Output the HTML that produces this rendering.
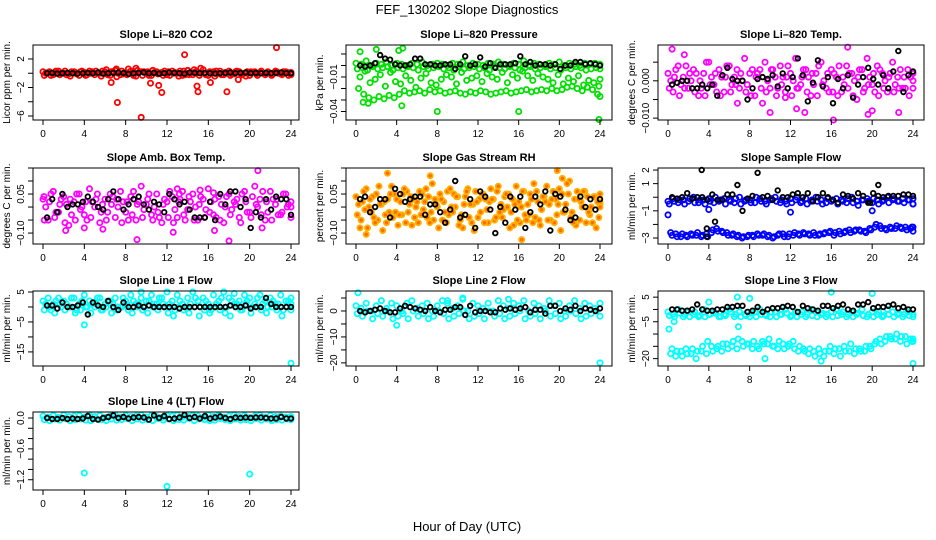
<!DOCTYPE html>
<html><head><meta charset="utf-8">
<style>
html,body{margin:0;padding:0;background:#fff;}
svg{display:block;font-family:"Liberation Sans",Arial,sans-serif;}
</style></head>
<body>
<svg id="chart" width="936" height="540" viewBox="0 0 936 540" xmlns="http://www.w3.org/2000/svg">
<rect x="0" y="0" width="936" height="540" fill="#fff"/>
<text x="467" y="14" font-size="13" text-anchor="middle">FEF_130202  Slope Diagnostics</text>
<text x="467" y="531" font-size="13" text-anchor="middle">Hour of Day (UTC)</text>
</svg>
<script>
const hours=[0,0.5,1,1.5,2,2.5,3,3.5,4,4.5,5,5.5,6,6.5,7,7.5,8,8.5,9,9.5,10,10.5,11,11.5,12,12.5,13,13.5,14,14.5,15,15.5,16,16.5,17,17.5,18,18.5,19,19.5,20,20.5,21,21.5,22,22.5,23,23.5,24];
const xTicks=[0,4,8,12,16,20,24];

const co2Black=[0,0.05,-0.05,0,0.05,0,-0.05,0,0.05,0,0.1,-0.05,0,0.05,0.1,0.05,-0.1,0,0.05,0.1,0,0.05,-0.05,0,0.1,0.05,0,-0.05,0.1,0.05,0,0.05,0,-0.05,0,0.05,0.1,0,0.05,0.1,0,0.05,0,0.05,0,0.05,0.1,0,0];
const co2A=[0.2,0.1,-0.2,0.3,0,-0.1,0.2,-0.3,0.1,0.3,-0.2,0,0.2,-0.3,0.4,-0.2,0.1,0.3,-0.4,0.2,0,-0.3,0.2,0.1,-0.2,0.3,0,-0.3,0.4,-0.2,0.1,0.5,-0.3,0.2,0,-0.2,0.3,-0.1,0.2,0,-0.3,0.2,0.1,-0.2,0,0.3,-0.1,0.2,0];
const co2B=[-0.3,0.2,0.1,-0.2,0.3,-0.4,0.1,0.2,-0.3,0,0.3,-0.4,0.5,0.2,-0.5,0.3,-0.2,0,0.4,-0.3,0.2,0.4,-0.1,-0.3,0.2,0,-0.4,0.3,-0.2,0.5,-0.3,0,0.2,-0.4,0.3,0.1,-0.3,0.2,0,-0.4,0.2,-0.1,0.3,0,-0.3,0.2,-0.2,0.1,-0.2];
const co2C=[0,-0.3,0.3,0,-0.2,0.2,-0.1,0.3,-0.2,0.2,0,0.3,-0.2,0.2,0,-0.1,0.6,-0.3,0.1,0.2,-0.3,0.1,0,0.3,-0.3,0.1,0.3,-0.2,0,0.2,0.7,-0.2,0,0.3,-0.2,0,-0.1,0.3,-0.2,0.2,0.1,-0.3,0,0.2,-0.1,0,0.2,-0.3,0.1];
const co2OutX=[7.2,9.5,13.7,22.6,11.5,14.9,15,17.8,11.2,7.1,9,6.6,16.2,18.9,10.4];
const co2OutY=[-4.1,-6.2,2.6,3.6,-2.7,-1.8,-2.6,-2.6,-1.7,0.6,0.7,-1.3,-1.3,-0.9,-1.4];

const presBlack=[0,-0.001,0,0.002,0.009,0.006,0.005,0.001,0,0,0.001,0.006,0.006,0.001,0.001,0,0,0.001,0.001,-0.003,0.001,0.008,0,0.001,0.007,-0.001,0.002,-0.002,0.001,0.001,0.001,0.002,0.008,0.001,0.003,0,0.001,0.001,0,0.001,-0.003,0,0,0.003,0.003,0.001,0.002,0.001,0];
const presA=[0.002,0.001,0.004,0,0.002,0.001,0.003,0,0.002,0.001,0,0.002,0.001,0.003,0,0.001,0.002,0.001,0,0.002,0.001,0.003,0,0.002,0.001,0,0.002,0.001,0.003,0.001,0,0.002,0.001,0.004,0,0.002,0.001,0,0.002,0.001,0.003,0,0.002,0.001,0,0.002,0.001,0.002,0.001];
const presB=[-0.003,-0.002,-0.004,-0.001,-0.003,-0.002,-0.001,-0.004,-0.002,-0.003,-0.001,-0.002,-0.004,-0.001,-0.003,-0.002,-0.001,-0.003,-0.002,-0.004,-0.001,-0.003,-0.002,-0.001,-0.003,-0.002,-0.004,-0.001,-0.002,-0.003,-0.001,-0.002,-0.004,-0.002,-0.001,-0.003,-0.002,-0.001,-0.003,-0.002,-0.004,-0.002,-0.003,-0.001,-0.002,-0.004,-0.003,-0.002,-0.003];
const presC=[-0.020,-0.025,-0.028,-0.030,-0.027,-0.029,-0.026,-0.028,-0.025,-0.022,-0.024,-0.023,-0.022,-0.024,-0.021,-0.023,-0.022,-0.024,-0.023,-0.022,-0.024,-0.025,-0.023,-0.024,-0.022,-0.023,-0.025,-0.024,-0.023,-0.022,-0.024,-0.023,-0.022,-0.021,-0.023,-0.022,-0.021,-0.022,-0.020,-0.022,-0.021,-0.019,-0.018,-0.020,-0.022,-0.019,-0.021,-0.025,-0.027];
const presD=[-0.010,-0.005,-0.015,-0.012,-0.008,-0.018,-0.006,-0.014,-0.016,-0.009,-0.013,-0.019,-0.011,-0.007,-0.015,-0.017,-0.012,-0.008,-0.010,-0.016,-0.006,-0.013,-0.011,-0.009,-0.014,-0.007,-0.010,-0.012,-0.006,-0.015,-0.008,-0.011,-0.005,-0.009,-0.013,-0.007,-0.010,-0.012,-0.015,-0.008,-0.016,-0.011,-0.014,-0.009,-0.017,-0.013,-0.015,-0.018,-0.012];
const presOutX=[0.4,2,4.2,4.6,8,16,23.9,4.5,1.2,0.7];
const presOutY=[0.012,0.014,0.013,0.015,-0.040,-0.040,-0.047,-0.035,-0.033,-0.032];

const tempBlack=[-0.001,-0.0005,0,0,-0.002,-0.002,-0.001,-0.002,-0.001,-0.004,0.0015,0.0035,0.0005,0,0,-0.005,-0.002,0.0005,0.001,0.0005,0.0015,-0.0015,0.002,-0.002,0.001,0.006,0.0015,-0.0055,-0.0005,0.0055,-0.0015,0.001,-0.006,0.0005,-0.002,0.0015,-0.0045,-0.001,0.001,0.0035,0.0005,-0.001,0.0015,-0.002,0.0025,0.008,-0.003,0.0015,0.0025];
const tempA=[0.002,-0.003,0.004,0.001,-0.002,0.003,-0.004,0.002,0.005,-0.001,0.003,-0.003,0.004,0.001,-0.002,0.006,0.002,-0.004,0.003,0.005,-0.002,0.001,0.004,-0.003,0.002,0.006,-0.001,0.003,-0.004,0.002,0.005,-0.002,0.003,0.001,-0.003,0.004,0.002,-0.005,0.003,0.006,-0.001,0.004,0.002,-0.003,0.005,0.001,-0.002,0.003,0];
const tempB=[-0.002,0.001,-0.004,-0.002,0.002,-0.003,0,-0.004,-0.001,0.002,-0.004,0.001,-0.003,-0.001,0.002,-0.003,-0.004,0.001,-0.002,-0.003,0.003,-0.004,-0.001,0.001,-0.004,-0.002,0.001,-0.003,0.002,-0.004,-0.001,0.002,-0.003,-0.004,0.001,-0.002,-0.004,0.001,-0.003,-0.001,0.002,-0.004,-0.002,0.001,-0.003,-0.002,0.001,-0.004,-0.002];
const tempC=[0,0.003,-0.001,0.004,0,0.002,-0.002,0.005,0.001,-0.003,0.001,0.004,-0.001,0.003,0,-0.001,0.003,0.002,-0.006,0,0.003,-0.002,0.001,0.004,0,-0.002,0.003,0.001,-0.001,0.004,0,-0.003,0.002,0.004,-0.001,0.002,0,0.003,-0.002,0.001,-0.003,0.003,0,0.002,-0.001,0.003,-0.002,0.001,0.002];
const tempOutX=[0.4,1.6,6.8,10,12.6,13.4,16.2,17.6,19.6,20,22.6,11.5];
const tempOutY=[0.0085,0.007,-0.006,-0.0085,-0.0075,-0.0085,-0.0105,0.009,-0.009,-0.008,-0.0085,-0.0045];

const ambBlack=[-0.04,0.03,-0.02,0.05,0,0.01,0.01,0.02,0.04,0.02,0,-0.01,0.03,0.06,0.03,-0.01,0.01,0.03,0.04,0.01,-0.01,0.02,0.01,-0.02,0.05,0.03,0.01,0.02,-0.01,-0.04,-0.04,-0.04,0.02,-0.05,0.05,0.01,0.06,0.06,0,0.03,-0.08,-0.02,-0.04,0.03,-0.01,0.04,0.03,0.03,-0.03];
const ambA=[0.03,-0.05,0.06,-0.02,0.04,-0.07,0.02,0.05,-0.03,0.07,0,-0.06,0.03,0.05,-0.04,0.06,-0.02,0.04,-0.05,0.08,0.01,-0.03,0.05,-0.06,0.02,0.04,-0.04,0.06,-0.01,0.05,-0.05,0.03,0.07,-0.03,0.04,-0.06,0.05,0.02,-0.04,0.06,-0.02,0.08,0.03,-0.05,0.06,0.01,-0.03,0.05,0.02];
const ambB=[-0.05,0.02,-0.04,0.01,-0.06,0.03,-0.05,-0.01,0.02,-0.04,0.03,-0.02,-0.05,0.01,0.03,-0.06,0.02,-0.03,0.01,-0.04,0.03,-0.05,-0.02,0.01,-0.04,-0.06,0.02,-0.03,0.04,-0.05,0.01,-0.04,-0.02,0.03,-0.05,0,-0.03,0.01,-0.06,0.02,-0.04,0.01,-0.03,0.02,-0.05,0.03,-0.02,0,-0.04];
const ambC=[0,0.05,-0.02,0.03,0.01,-0.03,0.05,0,-0.05,0.02,0.05,0.01,-0.02,0.04,0,0.02,-0.05,0.06,0.02,-0.01,0.05,0,-0.04,0.03,0.06,-0.01,0.03,-0.05,0.02,0,0.04,-0.01,0.02,-0.04,0.01,0.04,-0.01,0.03,0.05,-0.02,0.04,0,0.06,-0.02,0.03,-0.03,0.05,0.01,0];
const ambOutX=[2.2,4,5.8,9.1,13,12.6,15.2,16.6,18,20.8,21.2,13.2,16.5,0.1];
const ambOutY=[-0.09,-0.08,-0.085,-0.125,0.07,-0.097,0.065,-0.09,-0.13,0.14,-0.08,0.05,0.055,0.04];

const rhBlack=[0.03,0.04,-0.02,0,0.03,0.03,-0.04,0.07,0.05,0.02,0.03,0.04,0.04,-0.03,0.01,0.01,-0.02,-0.06,-0.01,0.10,-0.04,-0.03,0.03,-0.08,0.06,0.04,-0.01,-0.10,0,-0.06,0.04,-0.01,0.04,-0.08,-0.02,0.04,0.01,0.06,-0.09,0.05,0.04,-0.01,-0.05,-0.04,0.04,0,0.03,-0.01,0.03];
const rhA=[0.04,-0.05,0.07,-0.02,0.05,0.01,-0.06,0.08,0.03,-0.03,0.06,-0.07,0.02,0.05,-0.04,0.09,0,-0.05,0.06,-0.02,0.04,-0.08,0.07,0.01,-0.04,0.05,-0.06,0.03,0.08,-0.01,0.05,-0.07,0.02,0.06,-0.03,0.09,-0.05,0.04,0.01,-0.06,0.07,-0.02,0.10,0.03,-0.05,0.06,-0.03,0.04,0.02];
const rhB=[-0.03,0.02,-0.08,0.04,-0.05,-0.09,0.03,-0.04,-0.07,0.05,-0.02,0.03,-0.06,-0.01,0.04,-0.05,-0.08,0.02,-0.03,0.05,-0.07,0.01,-0.04,-0.09,0.03,-0.06,0.02,-0.05,-0.02,0.04,-0.08,0.01,-0.06,-0.03,0.05,-0.04,-0.07,0.02,-0.05,0.03,-0.09,0.01,-0.04,-0.07,0.02,-0.06,0,-0.08,0.01];
const rhC=[0.01,0.06,0,-0.04,0.08,0.02,-0.02,0.05,-0.03,0.07,0.01,-0.04,0.06,0.02,-0.06,0.03,0.05,-0.02,0.07,0,-0.05,0.04,0.01,0.06,-0.02,0.03,0.07,-0.04,0.01,0.05,-0.02,0.08,0,-0.05,0.03,0.06,-0.01,0.08,0.03,-0.03,0.05,0.09,-0.02,0.06,0,0.04,-0.06,0.02,0.05];
const rhD=[-0.08,-0.01,0.03,-0.06,0.01,-0.03,0.05,-0.02,0.02,-0.06,0.04,0,-0.03,0.07,-0.02,0.01,0.03,-0.06,0,0.04,-0.03,0.06,-0.06,0.02,0.05,-0.01,0.03,0.06,-0.04,0,0.03,-0.05,0.06,0.01,-0.06,0.02,0.04,-0.05,0.06,0.01,-0.02,0.05,-0.06,0.03,0.06,-0.02,0.04,-0.04,0];
const rhOutX=[1,3.1,7.3,16.3,19.8,20.3];
const rhOutY=[-0.105,0.13,0.12,-0.125,0.14,0.11];

const sfBlack=[0,-0.1,0,0.3,-0.1,0,0,-0.2,0.2,-0.2,-0.2,0.2,0.2,0.9,-1.0,-0.1,0.1,1.8,0,0.1,-0.2,0.5,0,0,0.2,0.3,0,0.3,-0.3,0,0.3,0,-0.2,-0.4,0.2,0.1,-0.1,0.3,0.1,-0.4,0.3,0.1,0,0.1,0.1,0.1,0.2,0.2,0.1];
const sfBlackOutX=[3.3,3.8,3.8,4.6,19.8,20.6];
const sfBlackOutY=[2.0,-2.9,-2.3,-1.8,-0.4,0.9];
const sfA=[-0.3,-0.1,-0.4,-0.2,-0.3,0,-0.4,-0.2,-0.1,-0.4,-0.3,-0.1,-0.2,-0.4,0,-0.3,-0.2,-0.4,-0.1,-0.3,-0.2,0,-0.4,-0.3,-0.1,-0.2,-0.4,-0.1,-0.3,0,-0.2,-0.4,-0.3,-0.1,-0.2,-0.4,0,-0.3,-0.2,-0.1,-0.4,-0.2,-0.3,0,-0.2,-0.3,-0.1,-0.2,-0.1];
const sfB=[-0.5,-0.3,-0.2,-0.5,-0.1,-0.4,-0.2,-0.5,-0.3,0,-0.2,-0.5,-0.3,-0.1,-0.5,-0.2,-0.4,0,-0.3,-0.5,-0.1,-0.3,-0.2,-0.5,-0.4,0,-0.3,-0.5,-0.2,-0.3,-0.5,-0.1,-0.2,-0.5,-0.3,-0.1,-0.4,-0.6,-0.2,-0.3,-0.1,-0.5,-0.2,-0.4,-0.1,-0.3,-0.4,-0.2,-0.5];
const sfC=[-2.6,-2.7,-2.9,-2.8,-2.7,-2.8,-2.9,-2.7,-2.6,-2.3,-2.5,-2.6,-2.8,-2.9,-3.0,-2.9,-2.8,-2.7,-2.8,-2.9,-3.0,-2.8,-2.7,-2.9,-2.8,-2.7,-2.6,-2.7,-2.6,-2.8,-2.7,-2.6,-2.8,-2.5,-2.6,-2.4,-2.5,-2.4,-2.5,-2.3,-2.2,-2.1,-2.3,-2.2,-2.3,-2.2,-2.2,-2.3,-2.5];
const sfD=[-2.8,-2.9,-2.7,-2.9,-2.8,-2.6,-2.8,-2.9,-2.4,-2.5,-2.6,-2.8,-2.7,-2.8,-2.9,-2.8,-2.9,-2.8,-2.7,-2.8,-2.9,-2.7,-2.9,-2.7,-2.6,-2.8,-2.7,-2.8,-2.8,-2.7,-2.6,-2.5,-2.6,-2.7,-2.5,-2.6,-2.4,-2.5,-2.6,-2.4,-2.0,-2.3,-2.4,-2.3,-2.1,-2.3,-2.4,-2.2,-2.2];
const sfOutX=[0,4,12,20,24];
const sfOutY=[-1.3,-0.9,-1.1,-1.0,-0.5];

const l1Black=[0.5,0.5,-0.5,1.5,0,0,0.5,1.5,-2.5,1.5,0.5,0,2.0,0,-1,1.5,0,0,0.5,0,0.5,0,0,0,0,0,-0.5,0,0,0,0,0,0,0,0,0,0.5,0,0,0.5,-0.5,0,0,3,1,0,0,0,0];
const l1A=[2,3,1,3,2,0,3,1,4,2,0,3,1,2,3,0,2,4,1,3,2,4,1,3,5,2,4,1,3,5,2,3,1,4,2,5,3,1,2,4,3,1,4,2,3,1,4,2,3];
const l1B=[-1,0,-2,1,-1,0,-2,-1,0,-2,1,-1,0,-2,-1,0,1,-2,0,-1,-2,0,-1,1,-2,-3,0,-1,-2,0,-3,-1,-2,0,-1,-2,-3,0,-1,1,-2,0,-1,-2,0,-1,-3,0,-1];
const l1C=[1,-1,2,0,1,3,-1,2,0,1,3,-1,2,1,0,3,-1,2,1,0,2,1,3,0,1,-1,2,0,1,3,0,2,-1,1,3,0,2,1,-1,2,0,3,1,0,2,1,-1,2,1];
const l1OutX=[4,24,18.5,9.5];
const l1OutY=[-6,-18.8,4.5,5];

const l2Black=[0,-0.5,0,0.5,1,0,-0.5,-0.5,1,2,1.5,1,0.5,0,1.5,0,-0.5,0.5,0.5,1.5,1.5,-1.5,2,-0.5,0,0,-0.5,-0.5,1,0.5,1,0.5,1,1.5,-0.5,0.5,0.5,-1,2,2,0,1,0.5,2,0,1,0.5,0,1];
const l2A=[2,1,3,0,2,4,1,3,2,0,3,4,1,2,3,0,2,4,3,1,2,5,0,3,2,1,3,0,4,2,1,3,2,4,0,3,2,1,4,2,3,0,2,4,1,3,2,1,3];
const l2B=[-1,-2,0,-3,-1,-2,0,-3,-2,-1,-3,0,-2,-1,-3,-2,0,-1,-3,-2,-1,0,-3,-2,-1,-3,0,-2,-1,-3,-2,-1,0,-3,-2,-1,-3,0,-2,-1,-3,-2,0,-1,-3,-2,-1,0,-2];
const l2OutX=[0.2,4,24,9,10.5,15];
const l2OutY=[7,-5.5,-20,4,4.5,4.5];

const l3Black=[0,0,-0.5,-0.5,0,2,0,-0.5,-0.5,0,0,1,1,1.5,1.5,-1,-0.5,1,-1,0,0.5,0.5,1,1.5,1,-1,1.5,0.5,0,-0.5,1.5,1.5,0.5,1.5,2,0,-0.5,2,2,3,0.5,1,1,1.5,2,0.5,1,0,0];
const l3A=[-1,-2,0,-3,-1,-2,-3,0,-2,-1,-3,-2,0,-3,-1,-2,-3,-1,0,-2,-3,-1,-2,0,-3,-1,-2,-3,0,-1,-2,-3,-1,0,-2,-3,-1,-2,0,-3,-1,-2,-3,0,-1,-2,-3,-1,-2];
const l3B=[-2.5,-3,-1.5,-2,-3,-1,-2.5,-3,-2,-1.5,-3,-2.5,-1,-2,-3,-2.5,-1.5,-3,-2,-2.5,-1,-3,-2,-1.5,-2.5,-3,-1,-2,-2.5,-3,-1.5,-2,-3,-2.5,-1,-2,-3,-1.5,-2.5,-2,-3,-1,-2.5,-2,-3,-1.5,-2,-2.5,-3];
const l3C=[-18,-19,-17,-16,-18,-20,-17,-18,-15,-16,-17,-14,-15,-16,-13,-14,-16,-15,-13,-14,-15,-16,-14,-15,-13,-17,-16,-18,-17,-16,-19,-17,-18,-16,-15,-17,-18,-16,-17,-15,-14,-12,-13,-11,-12,-13,-11,-12,-13];
const l3D=[-16,-17,-19,-18,-16,-17,-15,-13,-17,-15,-14,-16,-13,-12,-15,-14,-13,-16,-14,-12,-15,-13,-16,-14,-16,-15,-17,-16,-19,-18,-17,-15,-16,-19,-17,-14,-16,-17,-15,-16,-13,-14,-11,-12,-10,-11,-14,-13,-12];
const l3OutX=[0.1,0.6,4,6.8,8,16,20,24,15,9.5,6.9];
const l3OutY=[-8,-5,3,5,4.5,7,6.5,-22,-21,-20,-7];

const l4Black=[0,-0.02,-0.02,0,-0.02,-0.01,-0.02,-0.01,0.04,-0.02,-0.03,0,0.02,0.05,0,0.02,-0.01,0.01,0.02,0.01,-0.03,0.05,0,0.04,-0.02,-0.01,0.01,0.06,0,0.02,-0.01,0.04,-0.01,0.01,0.03,0,-0.02,0.01,0,0.01,0,0.01,0.01,0,-0.01,-0.01,0.02,-0.01,-0.01];
const l4A=[0.04,0.02,0.05,0.01,0.06,0.03,0.04,0.05,0.02,0.06,0.03,0.05,0.01,0.04,0.06,0.02,0.05,0.03,0.04,0.06,0.02,0.05,0.03,0.01,0.05,0.04,0.06,0.02,0.03,0.05,0.04,0.01,0.06,0.03,0.05,0.02,0.04,0.06,0.03,0.05,0.01,0.04,0.06,0.02,0.05,0.03,0.04,0.02,0.03];
const l4B=[-0.03,-0.05,-0.02,-0.04,-0.01,-0.05,-0.03,-0.02,-0.04,-0.05,-0.01,-0.03,-0.05,-0.02,-0.04,-0.03,-0.01,-0.05,-0.02,-0.04,-0.03,-0.05,-0.01,-0.04,-0.02,-0.05,-0.03,-0.04,-0.01,-0.05,-0.02,-0.03,-0.05,-0.04,-0.01,-0.03,-0.05,-0.02,-0.04,-0.03,-0.05,-0.01,-0.04,-0.02,-0.05,-0.03,-0.04,-0.02,-0.03];
const l4OutX=[4,12,20];
const l4OutY=[-1.07,-1.33,-1.09];

const panels=[
 {id:'co2',title:'Slope Li\u2013820 CO2',ylab:'Licor ppm per min.',col:0,row:0,ylim:[-6.56,3.96],ticks:[-6,-4,-2,0,2],labels:[[2,'2'],[-2,'\u22122'],[-6,'\u22126']],color:'#ff0000',clouds:[co2A,co2B,co2C],outX:co2OutX,outY:co2OutY,black:co2Black},
 {id:'pressure',title:'Slope Li\u2013820 Pressure',ylab:'kPa per min.',col:1,row:0,ylim:[-0.0474,0.0178],ticks:[-0.04,-0.03,-0.02,-0.01,0,0.01],labels:[[-0.01,'\u22120.01'],[-0.04,'\u22120.04']],color:'#00e000',clouds:[presA,presB,presC,presD],outX:presOutX,outY:presOutY,black:presBlack},
 {id:'li820-temp',title:'Slope Li\u2013820 Temp.',ylab:'degrees C per min.',col:2,row:0,ylim:[-0.0105,0.0096],ticks:[-0.01,-0.005,0,0.005],labels:[[0,'0.000'],[-0.01,'\u22120.010']],color:'#ff00ff',clouds:[tempA,tempB,tempC],outX:tempOutX,outY:tempOutY,black:tempBlack},
 {id:'amb-box-temp',title:'Slope Amb. Box Temp.',ylab:'degrees C per min.',col:0,row:1,ylim:[-0.142,0.15],ticks:[-0.1,-0.05,0,0.05,0.1,0.15],labels:[[0.05,'0.05'],[-0.1,'\u22120.10']],color:'#ff00ff',clouds:[ambA,ambB,ambC],outX:ambOutX,outY:ambOutY,black:ambBlack},
 {id:'gas-stream-rh',title:'Slope Gas Stream RH',ylab:'percent per min.',col:1,row:1,ylim:[-0.142,0.15],ticks:[-0.1,-0.05,0,0.05,0.1,0.15],labels:[[0.05,'0.05'],[-0.1,'\u22120.10']],color:'#ffb000',inner:'#ff6a00',clouds:[rhA,rhB,rhC,rhD],outX:rhOutX,outY:rhOutY,black:rhBlack},
 {id:'sample-flow',title:'Slope Sample Flow',ylab:'ml/min per min.',col:2,row:1,ylim:[-3.44,2.15],ticks:[-3,-2,-1,0,1,2],labels:[[2,'2'],[1,'1'],[-1,'\u22121'],[-3,'\u22123']],color:'#0000ff',clouds:[sfA,sfB,sfC,sfD],outX:sfOutX,outY:sfOutY,black:sfBlack,bOutX:sfBlackOutX,bOutY:sfBlackOutY},
 {id:'line1-flow',title:'Slope Line 1 Flow',ylab:'ml/min per min.',col:0,row:2,ylim:[-19.7,5.33],ticks:[-15,-10,-5,0,5],labels:[[5,'5'],[-5,'\u22125'],[-15,'\u221215']],color:'#00ffff',clouds:[l1A,l1B,l1C],outX:l1OutX,outY:l1OutY,black:l1Black},
 {id:'line2-flow',title:'Slope Line 2 Flow',ylab:'ml/min per min.',col:1,row:2,ylim:[-21.2,7.7],ticks:[-20,-15,-10,-5,0,5],labels:[[0,'0'],[-10,'\u221210'],[-20,'\u221220']],color:'#00ffff',clouds:[l2A,l2B],outX:l2OutX,outY:l2OutY,black:l2Black},
 {id:'line3-flow',title:'Slope Line 3 Flow',ylab:'ml/min per min.',col:2,row:2,ylim:[-23,7.5],ticks:[-20,-15,-10,-5,0,5],labels:[[5,'5'],[-5,'\u22125'],[-20,'\u221220']],color:'#00ffff',clouds:[l3A,l3B,l3C,l3D],outX:l3OutX,outY:l3OutY,black:l3Black},
 {id:'line4-flow',title:'Slope Line 4 (LT) Flow',ylab:'ml/min per min.',col:0,row:3,ylim:[-1.4,0.117],ticks:[-1.2,-1.0,-0.8,-0.6,-0.4,-0.2,0],labels:[[0,'0.0'],[-0.6,'\u22120.6'],[-1.2,'\u22121.2']],color:'#00ffff',clouds:[l4A,l4B],outX:l4OutX,outY:l4OutY,black:l4Black}
];
const colBox=[[33,299,43,291],[346,612,356,600],[658,924,668,913]];
const rowBox=[[45,120],[168,244],[291,366],[412,490]];
const NS='http://www.w3.org/2000/svg';
const svg=document.getElementById('chart');
function mk(tag,attrs,parent){const e=document.createElementNS(NS,tag);for(const k in attrs)e.setAttribute(k,attrs[k]);parent.appendChild(e);return e;}

panels.forEach(p=>{
  const [bl,br,x0,x24]=colBox[p.col];
  const [bt,bb]=rowBox[p.row];
  const xs=h=>x0+(Math.min(24,Math.max(0,h))/24)*(x24-x0);
  const ys=v=>bb-(v-p.ylim[0])/(p.ylim[1]-p.ylim[0])*(bb-bt);
  const g=mk('g',{},svg);
  
  
  const t=mk('text',{x:(bl+br)/2,y:bt-7,'font-size':11,'font-weight':'bold','text-anchor':'middle'},g);
  t.textContent=p.title;
  
  
  const yl=mk('text',{x:0,y:0,'font-size':10,'text-anchor':'middle',transform:`translate(${bl-23},${(bt+bb)/2}) rotate(-90)`},g);
  yl.textContent=p.ylab;
  
  
  const pts=mk('g',{fill:'none'},g);
  
  
  const dot=(h,v,stroke,sw,name)=>{
    const c=mk('circle',{cx:xs(h).toFixed(1),cy:ys(v).toFixed(1),r:2.6,stroke:stroke,'stroke-width':sw,fill:p.inner?p.inner:'none'},pts);
    
    
  };
  p.clouds.forEach((arr,k)=>{arr.forEach((v,i)=>{dot(hours[i]+k*0.13,v,p.color,1.8,p.id+'-point');});});
  p.outX.forEach((h,i)=>dot(h,p.outY[i],p.color,1.8,p.id+'-outlier'));
  p.black.forEach((v,i)=>{
    const c=mk('circle',{cx:xs(hours[i]*0.985+0.4).toFixed(1),cy:ys(v).toFixed(1),r:2.3,stroke:'#000','stroke-width':1.8,fill:'none'},pts);
    
    
  });
  if(p.bOutX)p.bOutX.forEach((h,i)=>{
    const c=mk('circle',{cx:xs(h).toFixed(1),cy:ys(p.bOutY[i]).toFixed(1),r:2.3,stroke:'#000','stroke-width':1.8,fill:'none'},pts);
    
    
  });
  const b=mk('rect',{x:bl,y:bt,width:br-bl,height:bb-bt,fill:'none',stroke:'#000','stroke-width':1},g);
  
  
  const xa=mk('g',{stroke:'#000','stroke-width':1},g);
  
  
  xTicks.forEach(h=>{
    mk('line',{x1:xs(h),x2:xs(h),y1:bb,y2:bb+5},xa);
    const tl=mk('text',{x:xs(h),y:bb+17,'font-size':10,'text-anchor':'middle',stroke:'none',fill:'#000'},xa);
    tl.textContent=String(h);
    
    
  });
  const ya=mk('g',{stroke:'#000','stroke-width':1},g);
  
  
  p.ticks.forEach(v=>{mk('line',{x1:bl-5,x2:bl,y1:ys(v),y2:ys(v)},ya);});
  p.labels.forEach(([v,s])=>{
    const tl=mk('text',{x:0,y:0,'font-size':10,'text-anchor':'middle',stroke:'none',fill:'#000',transform:`translate(${bl-9},${ys(v)}) rotate(-90)`},ya);
    tl.textContent=s;
    
    
  });
});
</script>
</body></html>
